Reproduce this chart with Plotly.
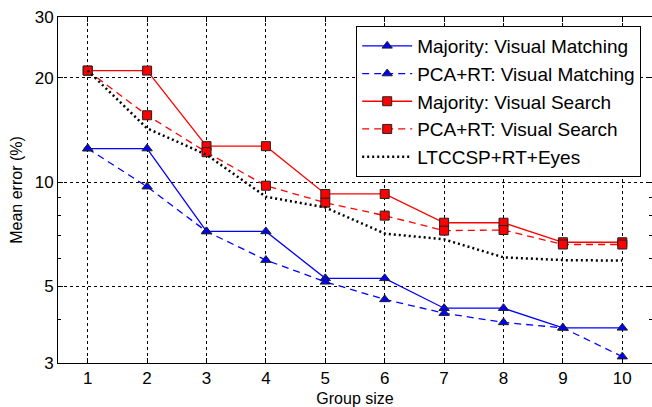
import plotly.graph_objects as go

group_size = [1, 2, 3, 4, 5, 6, 7, 8, 9, 10]
majority_vm = [12.5, 12.5, 7.2, 7.2, 5.27, 5.27, 4.32, 4.32, 3.79, 3.79]
pca_vm = [12.5, 9.7, 7.2, 5.95, 5.15, 4.58, 4.18, 3.93, 3.79, 3.13]
majority_vs = [21.0, 21.0, 12.7, 12.7, 9.24, 9.24, 7.63, 7.63, 6.7, 6.7]
pca_vs = [21.0, 15.6, 12.2, 9.76, 8.72, 8.0, 7.24, 7.27, 6.6, 6.6]
ltccsp = [21.0, 14.3, 12.0, 9.07, 8.45, 7.1, 6.83, 6.06, 5.95, 5.93]

y_tickvals = [3, 5, 10, 20, 30]
y_minor = [4, 6, 7, 8, 9]

FONT = "Liberation Sans, Arial, sans-serif"

fig = go.Figure()

def add(name, y, color, dash, symbol, width=1.3):
    kw = dict(x=group_size, y=y, name=name, legendgroup=name,
              line=dict(color=color, dash=dash, width=width))
    if symbol:
        kw["mode"] = "lines+markers"
        kw["marker"] = dict(symbol=symbol, size=9, color=color,
                            line=dict(color="#222222", width=1))
    else:
        kw["mode"] = "lines"
    fig.add_trace(go.Scatter(**kw))

add("Majority: Visual Matching", majority_vm, "#0000ff", "solid", "triangle-up")
add("PCA+RT: Visual Matching", pca_vm, "#0000ff", "7px,5px", "triangle-up")
add("Majority: Visual Search", majority_vs, "#ff0000", "solid", "square")
add("PCA+RT: Visual Search", pca_vs, "#ff0000", "7px,5px", "square")
add("LTCCSP+RT+Eyes", ltccsp, "#000000", "2px,3px", None, width=2.5)

fig.update_layout(
    width=652, height=407,
    margin=dict(l=58, r=0, t=17, b=44),
    paper_bgcolor="white", plot_bgcolor="white",
    font=dict(family=FONT, size=16, color="black"),
    showlegend=True,
    legend=dict(x=0.502, y=0.974, xanchor="left", yanchor="top",
                bgcolor="white", bordercolor="black", borderwidth=1,
                font=dict(size=19, family=FONT), tracegroupgap=0,
                itemwidth=50),
    xaxis=dict(range=[0.5, 10.5], tickvals=group_size,
               ticks="inside", ticklen=5, tickcolor="black",
               showline=True, linecolor="black", linewidth=1, mirror="ticks",
               showgrid=True, gridcolor="black", griddash="dot", gridwidth=1,
               zeroline=False, tickfont=dict(size=17),
               title=dict(text="Group size", font=dict(size=16), standoff=5)),
    yaxis=dict(type="log", range=[0.47712, 1.47712], tickvals=y_tickvals,
               ticktext=[str(v) for v in y_tickvals],
               ticks="inside", ticklen=5, tickcolor="black",
               showline=True, linecolor="black", linewidth=1, mirror="ticks",
               showgrid=True, gridcolor="black", griddash="dot", gridwidth=1,
               zeroline=False, tickfont=dict(size=17),
               minor=dict(tickvals=y_minor, ticks="inside", ticklen=3,
                          tickcolor="black", showgrid=False),
               title=dict(text="Mean error (%)", font=dict(size=16), standoff=8)),
)

fig.write_html("out.html")
